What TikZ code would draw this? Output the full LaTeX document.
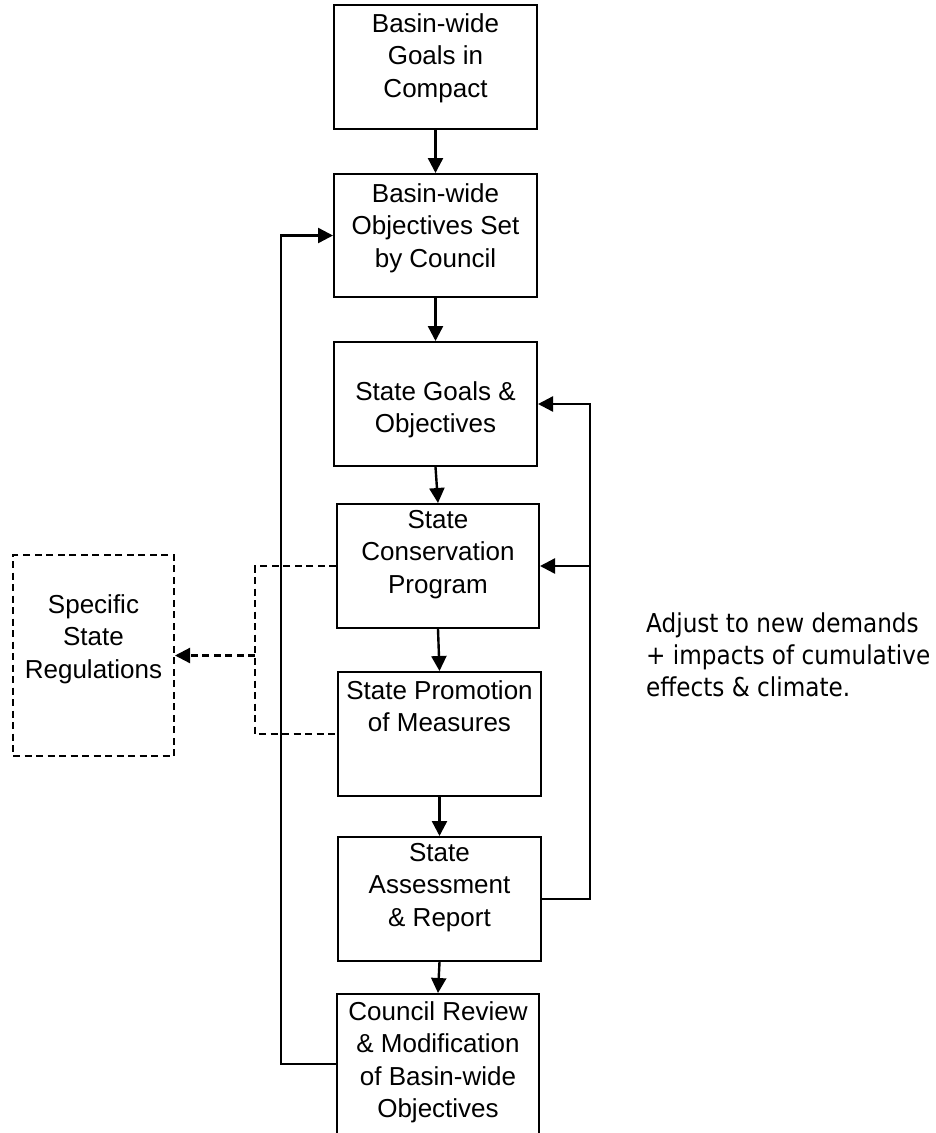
\documentclass[tikz,border=0pt]{standalone}
\usepackage{fontspec}
\setmainfont{Liberation Sans}
\newfontfamily\notefont{DejaVu Sans}[FakeStretch=0.89]
\usetikzlibrary{arrows.meta}
\begin{document}
\begin{tikzpicture}[x=1pt,y=-1pt,
  box/.style={draw, line width=2pt, inner sep=0pt},
  dbox/.style={draw, line width=2pt, inner sep=0pt, dash pattern=on 7pt off 4.5pt},
  lbl/.style={align=center, inner sep=0pt, font=\fontsize{26}{32.5}\selectfont, anchor=north},
  notestyle/.style={align=left, inner sep=0pt, font=\notefont\fontsize{26}{31.8}\selectfont, anchor=north west},
  arr/.style={line width=2.4pt, -{Triangle[length=15pt,width=15pt]}},
  dsh/.style={line width=2pt, dash pattern=on 7pt off 4.5pt},
  darr/.style={line width=2.2pt, dash pattern=on 7pt off 4.5pt, -{Triangle[length=15pt,width=15pt]}}]
\useasboundingbox (0,0) rectangle (935,1133);
\clip (0,0) rectangle (935,1133);
% boxes
\node[box, minimum width=203pt, minimum height=124pt] (b1) at (435.5,67) {};
\node[box, minimum width=203pt, minimum height=123pt] (b2) at (435.5,235.5) {};
\node[box, minimum width=203pt, minimum height=124pt] (b3) at (435.5,404) {};
\node[box, minimum width=202pt, minimum height=124pt] (b4) at (438,566) {};
\node[box, minimum width=203pt, minimum height=124pt] (b5) at (439.5,734) {};
\node[box, minimum width=203pt, minimum height=124pt] (b6) at (439.5,899) {};
\node[box, minimum width=202pt, minimum height=156pt] (b7) at (438,1072) {};
\node[dbox, minimum width=161pt, minimum height=201pt] (reg) at (93.5,655.5) {};
% labels
\node[lbl] (t1) at (435.5,13) {Basin-wide\\Goals in\\Compact};
\node[lbl] (t2) at (435.5,183) {Basin-wide\\Objectives Set\\by Council};
\node[lbl] (t3) at (435.5,381) {State Goals \&\\Objectives};
\node[lbl] (t4) at (438,510) {State\\Conservation\\Program};
\node[lbl] (t5) at (439.5,680) {State Promotion\\of Measures};
\node[lbl] (t6) at (439.5,843) {State\\Assessment\\\& Report};
\node[lbl] (t7) at (438,1001) {Council Review\\\& Modification\\of Basin-wide\\Objectives};
\node[lbl] (treg) at (93.5,594) {Specific\\State\\Regulations};
\node[notestyle] (note) at (646,613) {Adjust to new demands\\+ impacts of cumulative\\effects \& climate.};
% main chain
\draw[arr] (b1.south) -- (b2.north);
\draw[arr] (b2.south) -- (b3.north);
\draw[arr] (b3.south) -- (b4.north);
\draw[arr] (b4.south) -- (b5.north);
\draw[arr] (b5.south) -- (b6.north);
\draw[arr] (b6.south) -- (b7.north);
% right feedback
\coordinate (R1) at (590,899);
\coordinate (R2) at (590,404);
\coordinate (R3) at (590,566);
\draw[arr] (b6.east) -- (R1) -- (R2) -- (b3.east);
\draw[arr] (R3) -- (b4.east);
% left loop
\coordinate (L1) at (281,1064);
\coordinate (L2) at (281,235.5);
\draw[arr] (b7.west |- L1) -- (L1) -- (L2) -- (b2.west);
% dashed to regulations
\coordinate (D1) at (255,566);
\coordinate (D2) at (255,734);
\coordinate (D3) at (255,655.5);
\draw[dsh] (b4.west) -- (D1) -- (D2) -- (b5.west);
\draw[darr] (D3) -- (reg.east);
\end{tikzpicture}
\end{document}
